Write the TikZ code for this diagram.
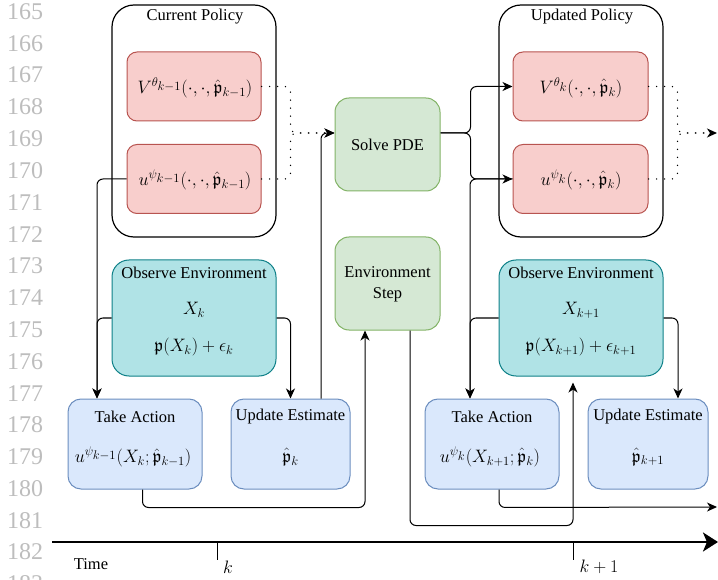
\RequirePackage{fix-cm}
\documentclass[tikz,border=0pt]{standalone}
\usepackage{amssymb}
\usepackage[no-math]{fontspec}
\setmainfont{Liberation Serif}
\usetikzlibrary{arrows.meta}
\definecolor{redfill}{HTML}{F8CECC}
\definecolor{redline}{HTML}{B85450}
\definecolor{greenfill}{HTML}{D5E8D4}
\definecolor{greenline}{HTML}{82B366}
\definecolor{bluefill}{HTML}{DAE8FC}
\definecolor{blueline}{HTML}{6C8EBF}
\definecolor{tealfill}{HTML}{B0E3E6}
\definecolor{tealline}{HTML}{0E8088}
\definecolor{lnum}{HTML}{BDBDBD}
\newcommand{\pk}{\hat{\mathfrak{p}}}
\newcommand{\sst}[1]{{\scriptstyle #1}}
\begin{document}
\begin{tikzpicture}[x=1pt,y=-1pt,
  txt/.style={font=\fontsize{16.5}{21}\selectfont, inner sep=0pt},
  mth/.style={font=\fontsize{18}{21}\selectfont, inner sep=0pt},
  container/.style={draw=black, line width=1.2pt, rounded corners=22pt, inner sep=0pt},
  redbox/.style={draw=redline, fill=redfill, line width=1pt, rounded corners=10pt, minimum width=134pt, minimum height=69pt, inner sep=0pt},
  greenbox/.style={draw=greenline, fill=greenfill, line width=1pt, rounded corners=14pt, minimum width=105pt, minimum height=93pt, inner sep=0pt},
  tealbox/.style={draw=tealline, fill=tealfill, line width=1pt, rounded corners=17pt, minimum width=164pt, minimum height=116pt, inner sep=0pt},
  bluebox/.style={draw=blueline, fill=bluefill, line width=1pt, rounded corners=13pt, minimum height=90pt, inner sep=0pt},
  edge/.style={draw, line width=1pt, rounded corners=6pt},
  arr/.style={-{Stealth[length=10pt,width=9pt,inset=3pt]}},
  dotedge/.style={draw, line width=1.5pt, line cap=round, dash pattern=on 0pt off 8pt, rounded corners=6pt},
  lnstyle/.style={font=\fontsize{24}{26}\selectfont, text=lnum, inner sep=0pt}
]
\useasboundingbox (0,0) rectangle (718,580);

% line numbers
\foreach \n in {165,...,183}{
  \node[lnstyle] (ln\n) at (25,{11.5+31.8*(\n-165)}) {\n};
}

% containers
\node[container, minimum width=164pt, minimum height=232pt] (CP) at (194,121) {};
\node[txt] (CPt) at (195,17) {Current Policy};
\node[container, minimum width=164pt, minimum height=232pt] (UP) at (581,121) {};
\node[txt] (UPt) at (582,17) {Updated Policy};

% red boxes
\node[redbox] (V1) at (194,86.5) {};
\node[mth] (V1t) at (195,88) {$V^{\theta_{\sst{k-1}}}(\cdot,\cdot,\pk_{k-1})$};
\node[redbox] (U1) at (194,179) {};
\node[mth] (U1t) at (195,180) {$u^{\psi_{\sst{k-1}}}(\cdot,\cdot,\pk_{k-1})$};
\node[redbox, minimum width=135pt] (V2) at (580.5,86.5) {};
\node[mth] (V2t) at (581,88) {$V^{\theta_{\sst{k}}}(\cdot,\cdot,\pk_{k})$};
\node[redbox, minimum width=135pt] (U2) at (580.5,179) {};
\node[mth] (U2t) at (581,180) {$u^{\psi_{\sst{k}}}(\cdot,\cdot,\pk_{k})$};

% green boxes
\node[greenbox] (SPDE) at (387.5,144.5) {};
\node[txt] (SPDEt) at (387.5,145) {Solve PDE};
\node[greenbox] (ES) at (387.5,283.5) {};
\node[txt, align=center] (ESt) at (387.5,284) {Environment\\Step};

% observe environment
\node[tealbox] (OE1) at (194,318) {};
\node[txt] (OE1t) at (194,273) {Observe Environment};
\node[mth] (OE1x) at (194,310) {$X_k$};
\node[mth] (OE1p) at (194,347) {$\mathfrak{p}(X_k)+\epsilon_k$};
\node[tealbox] (OE2) at (581,318) {};
\node[txt] (OE2t) at (581,273) {Observe Environment};
\node[mth] (OE2x) at (581,310) {$X_{k+1}$};
\node[mth] (OE2p) at (581,347) {$\mathfrak{p}(X_{k+1})+\epsilon_{k+1}$};

% blue boxes
\node[bluebox, minimum width=134pt] (TA1) at (135,444) {};
\node[txt] (TA1t) at (135,417) {Take Action};
\node[mth] (TA1f) at (133,457) {$u^{\psi_{\sst{k-1}}}(X_k;\pk_{k-1})$};
\node[bluebox, minimum width=119pt] (UE1) at (290.5,444) {};
\node[txt] (UE1t) at (290.5,417) {Update Estimate};
\node[mth] (UE1f) at (290.5,457) {$\pk_{k}$};
\node[bluebox, minimum width=134pt] (TA2) at (492,444) {};
\node[txt] (TA2t) at (492,417) {Take Action};
\node[mth] (TA2f) at (490,457) {$u^{\psi_{\sst{k}}}(X_{k+1};\pk_{k})$};
\node[bluebox, minimum width=120pt] (UE2) at (648,444) {};
\node[txt] (UE2t) at (648,417) {Update Estimate};
\node[mth] (UE2f) at (648,457) {$\pk_{k+1}$};

% free ends
\coordinate (out1) at (717,507);
\coordinate (out2) at (717,133);

% dotted edges into Solve PDE
\draw[dotedge, arr] (V1.east) -- ++(29,0) |- ([yshift=11.5pt]SPDE.west);
\draw[dotedge] (U1.east) -- ++(29,0) |- ([yshift=11.5pt]SPDE.west);
\draw[edge, arr] ([xshift=30.5pt]UE1.north) |- ([yshift=11.5pt]SPDE.west);

% Solve PDE to updated policy
\draw[edge, arr] ([yshift=11.5pt]SPDE.east) -- ++(30,0) |- (V2.west);
\draw[edge, arr] ([yshift=11.5pt]SPDE.east) -- ++(30,0) |- (U2.west);

% first step
\draw[edge, arr] (U1.west) -| ([xshift=-38pt]TA1.north);
\draw[edge, arr] (OE1.west) -| ([xshift=-38pt]TA1.north);
\draw[edge, arr] (OE1.east) -| (UE1.north);
\draw[edge, arr] ([xshift=7.5pt]TA1.south) -- ++(0,18) -| ([xshift=-22.5pt]ES.south);
\draw[edge, arr, shorten >=6pt] ([xshift=22.5pt]ES.south) -- ++(0,195) -| ([xshift=-8pt]OE2.south);

% second step
\draw[edge, arr] (U2.west) -| ([xshift=-22pt]TA2.north);
\draw[edge, arr] (OE2.west) -| ([xshift=-22pt]TA2.north);
\draw[edge, arr] (OE2.east) -| ([xshift=30pt]UE2.north);
\draw[edge, arr] ([xshift=7pt]TA2.south) -- ++(0,18) -- (out1);
\draw[dotedge, arr] (V2.east) -- ++(29,0) |- (out2);
\draw[dotedge] (U2.east) -- ++(29,0) |- (out2);

% time axis
\coordinate (t0) at (52,542);
\coordinate (t1) at (718,542);
\coordinate (tk) at (217,542);
\coordinate (tk1) at (573,542);
\draw[line width=2.5pt, -{Stealth[length=15pt,width=19pt,inset=4pt]}] (t0) -- (t1);
\draw[line width=1pt] (tk) -- ++(0,18);
\draw[line width=1pt] (tk1) -- ++(0,18);
\node[txt] (ltime) at (91,564) {Time};
\node[mth] (lk) at (228,567) {$k$};
\node[mth] (lk1) at (599,567) {$k+1$};
\end{tikzpicture}
\end{document}
